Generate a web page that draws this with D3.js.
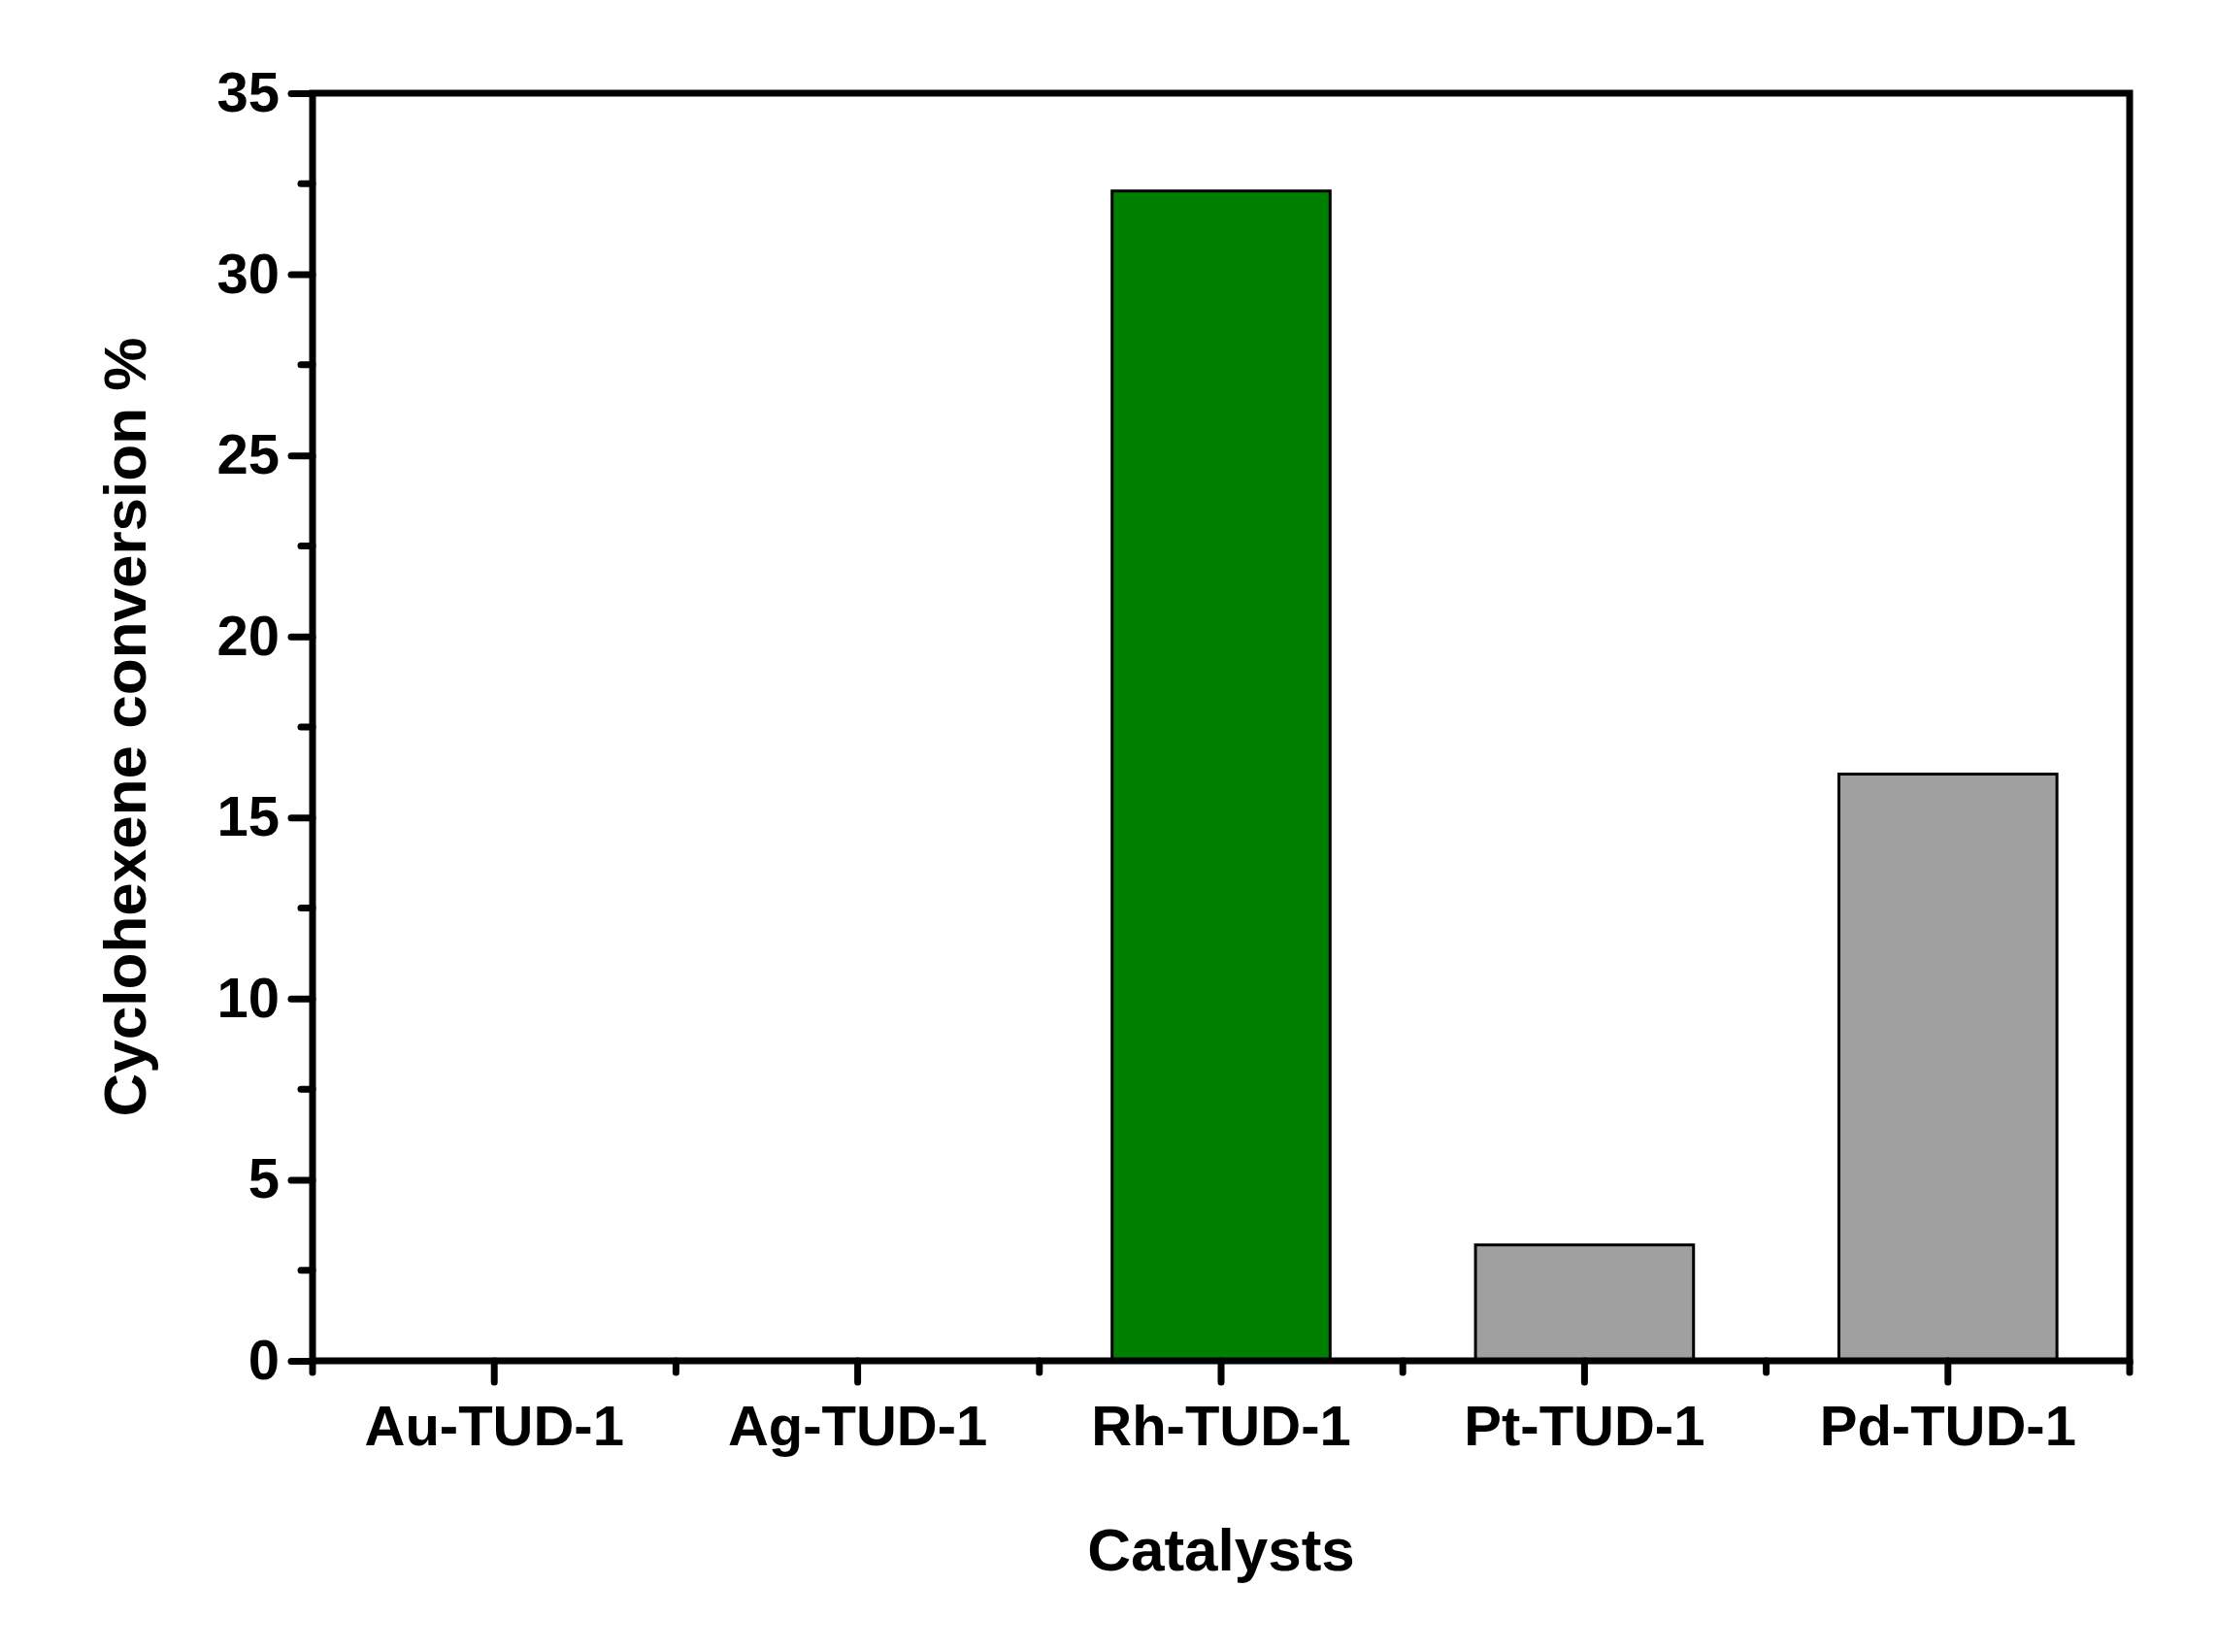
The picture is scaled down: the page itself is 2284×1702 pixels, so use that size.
<!DOCTYPE html>
<html lang="en">
<head>
<meta charset="UTF-8">
<script src="https://d3js.org/d3.v7.min.js"></script>
<style>
  body { margin: 0; background: #fff; }
  text { font-family: "Liberation Sans", Arial, sans-serif; font-weight: bold; fill: #000; }
</style>
</head>
<body>
<svg id="chart" width="2284" height="1702"></svg>
<script>
  // data
  const catalysts = ["Au-TUD-1", "Ag-TUD-1", "Rh-TUD-1", "Pt-TUD-1", "Pd-TUD-1"];
  const conversion = [0, 0, 32.3, 3.2, 16.2];
  const barColors = ["#a0a0a0", "#a0a0a0", "#008000", "#a0a0a0", "#a0a0a0"];
  const yTicks = [0, 5, 10, 15, 20, 25, 30, 35];

  const svg = d3.select("#chart");
  const m = { left: 322, right: 2194, top: 96, bottom: 1402 };

  const x = d3.scaleBand().domain(catalysts).range([m.left, m.right]).paddingInner(0).paddingOuter(0);
  const y = d3.scaleLinear().domain([0, 35]).range([m.bottom, m.top]);

  // bars
  const bw = x.bandwidth() * 0.6;
  svg.append("g").selectAll("rect")
    .data(catalysts.map((c, i) => ({ c, v: conversion[i], col: barColors[i] })).filter(d => d.v > 0))
    .enter().append("rect")
    .attr("x", d => x(d.c) + (x.bandwidth() - bw) / 2)
    .attr("y", d => y(d.v))
    .attr("width", bw)
    .attr("height", d => y(0) - y(d.v))
    .attr("fill", d => d.col)
    .attr("stroke", "#000")
    .attr("stroke-width", 3);

  // frame
  svg.append("rect")
    .attr("x", m.left).attr("y", m.top)
    .attr("width", m.right - m.left).attr("height", m.bottom - m.top)
    .attr("fill", "none").attr("stroke", "#000").attr("stroke-width", 7);

  // y axis
  const yAxis = svg.append("g").attr("transform", `translate(${m.left},0)`)
    .call(d3.axisLeft(y).tickValues(yTicks).tickSize(22).tickPadding(12));
  yAxis.select(".domain").remove();
  yAxis.selectAll("line").attr("stroke-width", 7).attr("stroke-linecap", "round");
  yAxis.selectAll("text").attr("font-size", 58);
  const minorY = d3.range(2.5, 35, 5);
  svg.append("g").selectAll("line").data(minorY).enter().append("line")
    .attr("x1", m.left - 12).attr("x2", m.left)
    .attr("y1", d => y(d)).attr("y2", d => y(d))
    .attr("stroke", "#000").attr("stroke-width", 7).attr("stroke-linecap", "round");

  // x axis
  const xAxis = svg.append("g").attr("transform", `translate(0,${m.bottom})`)
    .call(d3.axisBottom(x).tickSize(22).tickPadding(24));
  xAxis.select(".domain").remove();
  xAxis.selectAll("line").attr("stroke-width", 7).attr("stroke-linecap", "round");
  xAxis.selectAll("text").attr("font-size", 58);
  const bounds = catalysts.map(c => x(c)).concat([m.right]);
  svg.append("g").selectAll("line").data(bounds).enter().append("line")
    .attr("x1", d => d).attr("x2", d => d)
    .attr("y1", m.bottom).attr("y2", m.bottom + 12)
    .attr("stroke", "#000").attr("stroke-width", 7).attr("stroke-linecap", "round");

  // titles
  svg.append("text").attr("x", (m.left + m.right) / 2).attr("y", 1618)
    .attr("text-anchor", "middle").attr("font-size", 62).text("Catalysts");
  svg.append("text")
    .attr("transform", `translate(150,${(m.top + m.bottom) / 2}) rotate(-90)`)
    .attr("text-anchor", "middle").attr("font-size", 62).text("Cyclohexene conversion %");
</script>
</body>
</html>
